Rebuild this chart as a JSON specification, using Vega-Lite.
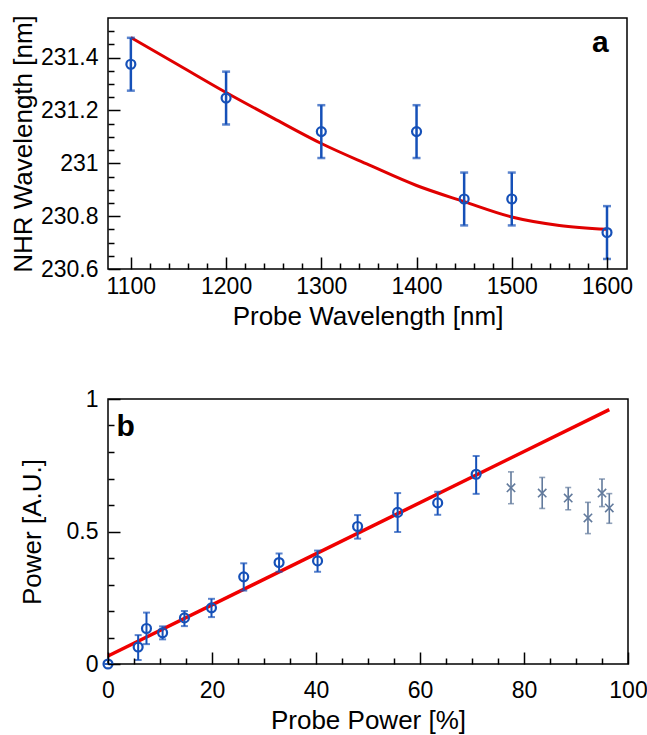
{
  "$schema": "https://vega.github.io/schema/vega-lite/v6.json",
  "padding": {"left": 9, "top": 13, "right": 0, "bottom": 0},
  "spacing": 57,
  "datasets": {
    "fitA": [
      {"wl": 1100, "nhr": 231.476}, {"wl": 1150, "nhr": 231.372}, {"wl": 1200, "nhr": 231.268},
      {"wl": 1250, "nhr": 231.17}, {"wl": 1300, "nhr": 231.075}, {"wl": 1350, "nhr": 230.994},
      {"wl": 1400, "nhr": 230.916}, {"wl": 1450, "nhr": 230.855}, {"wl": 1500, "nhr": 230.797},
      {"wl": 1550, "nhr": 230.765}, {"wl": 1600, "nhr": 230.75}
    ],
    "measA": [
      {"wl": 1100, "nhr": 231.375, "lo": 231.275, "hi": 231.475},
      {"wl": 1200, "nhr": 231.247, "lo": 231.147, "hi": 231.347},
      {"wl": 1300, "nhr": 231.12, "lo": 231.02, "hi": 231.22},
      {"wl": 1400, "nhr": 231.12, "lo": 231.02, "hi": 231.22},
      {"wl": 1450, "nhr": 230.865, "lo": 230.765, "hi": 230.965},
      {"wl": 1500, "nhr": 230.865, "lo": 230.765, "hi": 230.965},
      {"wl": 1600, "nhr": 230.738, "lo": 230.638, "hi": 230.838}
    ],
    "labelA": [{"wl": 1593, "nhr": 231.42, "label": "a"}],
    "fitB": [{"pp": 0, "pw": 0.03}, {"pp": 96.4, "pw": 0.96}],
    "measB": [
      {"pp": 0, "pw": 0.0, "lo": 0.0, "hi": 0.0},
      {"pp": 5.8, "pw": 0.064, "lo": 0.015, "hi": 0.109},
      {"pp": 7.4, "pw": 0.134, "lo": 0.075, "hi": 0.194},
      {"pp": 10.5, "pw": 0.118, "lo": 0.093, "hi": 0.142},
      {"pp": 14.7, "pw": 0.174, "lo": 0.143, "hi": 0.2},
      {"pp": 19.9, "pw": 0.212, "lo": 0.177, "hi": 0.246},
      {"pp": 26.1, "pw": 0.329, "lo": 0.277, "hi": 0.38},
      {"pp": 32.9, "pw": 0.383, "lo": 0.348, "hi": 0.417},
      {"pp": 40.3, "pw": 0.389, "lo": 0.348, "hi": 0.428},
      {"pp": 48.0, "pw": 0.519, "lo": 0.473, "hi": 0.562},
      {"pp": 55.7, "pw": 0.572, "lo": 0.498, "hi": 0.645},
      {"pp": 63.4, "pw": 0.608, "lo": 0.563, "hi": 0.65},
      {"pp": 70.8, "pw": 0.716, "lo": 0.642, "hi": 0.785}
    ],
    "satB": [
      {"pp": 77.5, "pw": 0.665, "lo": 0.605, "hi": 0.725},
      {"pp": 83.5, "pw": 0.645, "lo": 0.587, "hi": 0.704},
      {"pp": 88.5, "pw": 0.626, "lo": 0.582, "hi": 0.666},
      {"pp": 92.3, "pw": 0.551, "lo": 0.492, "hi": 0.61},
      {"pp": 95.0, "pw": 0.645, "lo": 0.594, "hi": 0.698},
      {"pp": 96.4, "pw": 0.589, "lo": 0.531, "hi": 0.643}
    ],
    "labelB": [{"pp": 3.4, "pw": 0.86, "label": "b"}]
  },
  "vconcat": [
    {
      "width": 519,
      "height": 251,
      "layer": [
        {
          "data": {"name": "fitA"},
          "mark": {"type": "line", "color": "#e00000", "strokeWidth": 3, "interpolate": "monotone"},
          "encoding": {
            "x": {"field": "wl", "type": "quantitative",
              "scale": {"domain": [1076, 1621], "nice": false, "zero": false},
              "axis": {"orient": "bottom", "zindex": 1, "ticks": true, "tickSize": -12, "tickColor": "#000000", "tickWidth": 1.5, "tickOpacity": 1,
                "values": [1100,1120,1140,1160,1180,1200,1220,1240,1260,1280,1300,1320,1340,1360,1380,1400,1420,1440,1460,1480,1500,1520,1540,1560,1580,1600],
                "tickDash": {"condition": {"test": "datum.value % 100 === 0", "value": []}, "value": [6, 100]},
                "labelExpr": "datum.value % 100 === 0 ? '' + datum.value : ''",
                "labelPadding": 18, "title": "Probe Wavelength [nm]", "titlePadding": 5}},
            "y": {"field": "nhr", "type": "quantitative",
              "scale": {"domain": [230.6, 231.55], "nice": false, "zero": false},
              "axis": {"orient": "left", "zindex": 1, "ticks": true, "tickSize": -12, "tickColor": "#000000", "tickWidth": 1.5, "tickOpacity": 1,
                "values": [230.6,230.65,230.7,230.75,230.8,230.85,230.9,230.95,231,231.05,231.1,231.15,231.2,231.25,231.3,231.35,231.4,231.45,231.5],
                "tickDash": {"condition": {"test": "abs(datum.value*5 - round(datum.value*5)) < 0.001", "value": []}, "value": [6, 100]},
                "labelExpr": "abs(datum.value*5 - round(datum.value*5)) < 0.001 ? '' + round(datum.value*10)/10 : ''",
                "labelPadding": 22, "title": "NHR Wavelength [nm]", "titlePadding": 4}}
          }
        },
        {
          "data": {"name": "measA"},
          "mark": {"type": "errorbar", "ticks": true, "size": 8, "thickness": 2.5, "color": "#1550b8"},
          "encoding": {
            "x": {"field": "wl", "type": "quantitative", "scale": {"domain": [1076, 1621], "nice": false, "zero": false},
              "axis": {"orient": "bottom", "zindex": 1, "ticks": true, "tickSize": -12, "tickColor": "#000000", "tickWidth": 1.5, "tickOpacity": 1,
                "values": [1100,1120,1140,1160,1180,1200,1220,1240,1260,1280,1300,1320,1340,1360,1380,1400,1420,1440,1460,1480,1500,1520,1540,1560,1580,1600],
                "tickDash": {"condition": {"test": "datum.value % 100 === 0", "value": []}, "value": [6, 100]},
                "labelExpr": "datum.value % 100 === 0 ? '' + datum.value : ''",
                "labelPadding": 18, "title": "Probe Wavelength [nm]", "titlePadding": 5}},
            "y": {"field": "lo", "type": "quantitative", "scale": {"domain": [230.6, 231.55], "nice": false, "zero": false},
              "axis": {"orient": "left", "zindex": 1, "ticks": true, "tickSize": -12, "tickColor": "#000000", "tickWidth": 1.5, "tickOpacity": 1,
                "values": [230.6,230.65,230.7,230.75,230.8,230.85,230.9,230.95,231,231.05,231.1,231.15,231.2,231.25,231.3,231.35,231.4,231.45,231.5],
                "tickDash": {"condition": {"test": "abs(datum.value*5 - round(datum.value*5)) < 0.001", "value": []}, "value": [6, 100]},
                "labelExpr": "abs(datum.value*5 - round(datum.value*5)) < 0.001 ? '' + round(datum.value*10)/10 : ''",
                "labelPadding": 22, "title": "NHR Wavelength [nm]", "titlePadding": 4}},
            "y2": {"field": "hi"}
          }
        },
        {
          "data": {"name": "measA"},
          "mark": {"type": "point", "shape": "circle", "filled": false, "size": 80, "strokeWidth": 2.2, "color": "#1550b8", "opacity": 1},
          "encoding": {
            "x": {"field": "wl", "type": "quantitative", "scale": {"domain": [1076, 1621], "nice": false, "zero": false},
              "axis": {"orient": "bottom", "zindex": 1, "ticks": true, "tickSize": -12, "tickColor": "#000000", "tickWidth": 1.5, "tickOpacity": 1,
                "values": [1100,1120,1140,1160,1180,1200,1220,1240,1260,1280,1300,1320,1340,1360,1380,1400,1420,1440,1460,1480,1500,1520,1540,1560,1580,1600],
                "tickDash": {"condition": {"test": "datum.value % 100 === 0", "value": []}, "value": [6, 100]},
                "labelExpr": "datum.value % 100 === 0 ? '' + datum.value : ''",
                "labelPadding": 18, "title": "Probe Wavelength [nm]", "titlePadding": 5}},
            "y": {"field": "nhr", "type": "quantitative", "scale": {"domain": [230.6, 231.55], "nice": false, "zero": false},
              "axis": {"orient": "left", "zindex": 1, "ticks": true, "tickSize": -12, "tickColor": "#000000", "tickWidth": 1.5, "tickOpacity": 1,
                "values": [230.6,230.65,230.7,230.75,230.8,230.85,230.9,230.95,231,231.05,231.1,231.15,231.2,231.25,231.3,231.35,231.4,231.45,231.5],
                "tickDash": {"condition": {"test": "abs(datum.value*5 - round(datum.value*5)) < 0.001", "value": []}, "value": [6, 100]},
                "labelExpr": "abs(datum.value*5 - round(datum.value*5)) < 0.001 ? '' + round(datum.value*10)/10 : ''",
                "labelPadding": 22, "title": "NHR Wavelength [nm]", "titlePadding": 4}}
          }
        },
        {
          "data": {"name": "labelA"},
          "mark": {"type": "text", "font": "Liberation Sans", "fontWeight": "bold", "fontSize": 30, "align": "center", "baseline": "alphabetic", "color": "#000"},
          "encoding": {
            "x": {"field": "wl", "type": "quantitative", "scale": {"domain": [1076, 1621], "nice": false, "zero": false},
              "axis": {"orient": "bottom", "zindex": 1, "ticks": true, "tickSize": -12, "tickColor": "#000000", "tickWidth": 1.5, "tickOpacity": 1,
                "values": [1100,1120,1140,1160,1180,1200,1220,1240,1260,1280,1300,1320,1340,1360,1380,1400,1420,1440,1460,1480,1500,1520,1540,1560,1580,1600],
                "tickDash": {"condition": {"test": "datum.value % 100 === 0", "value": []}, "value": [6, 100]},
                "labelExpr": "datum.value % 100 === 0 ? '' + datum.value : ''",
                "labelPadding": 18, "title": "Probe Wavelength [nm]", "titlePadding": 5}},
            "y": {"field": "nhr", "type": "quantitative", "scale": {"domain": [230.6, 231.55], "nice": false, "zero": false},
              "axis": {"orient": "left", "zindex": 1, "ticks": true, "tickSize": -12, "tickColor": "#000000", "tickWidth": 1.5, "tickOpacity": 1,
                "values": [230.6,230.65,230.7,230.75,230.8,230.85,230.9,230.95,231,231.05,231.1,231.15,231.2,231.25,231.3,231.35,231.4,231.45,231.5],
                "tickDash": {"condition": {"test": "abs(datum.value*5 - round(datum.value*5)) < 0.001", "value": []}, "value": [6, 100]},
                "labelExpr": "abs(datum.value*5 - round(datum.value*5)) < 0.001 ? '' + round(datum.value*10)/10 : ''",
                "labelPadding": 22, "title": "NHR Wavelength [nm]", "titlePadding": 4}},
            "text": {"field": "label"}
          }
        }
      ]
    },
    {
      "width": 520,
      "height": 265,
      "layer": [
        {
          "data": {"name": "fitB"},
          "mark": {"type": "line", "color": "#f00000", "strokeWidth": 3.5},
          "encoding": {
            "x": {"field": "pp", "type": "quantitative", "scale": {"domain": [0, 100], "nice": false},
              "axis": {"orient": "bottom", "zindex": 1, "ticks": true, "tickSize": -12, "tickColor": "#000000", "tickWidth": 1.5, "tickOpacity": 1,
                "values": [0,5,10,15,20,25,30,35,40,45,50,55,60,65,70,75,80,85,90,95,100],
                "tickDash": {"condition": {"test": "datum.value % 20 === 0", "value": []}, "value": [6, 100]},
                "labelExpr": "datum.value % 20 === 0 ? '' + datum.value : ''",
                "labelPadding": 27, "title": "Probe Power [%]", "titlePadding": 5}},
            "y": {"field": "pw", "type": "quantitative", "scale": {"domain": [0, 1], "nice": false},
              "axis": {"orient": "left", "zindex": 1, "ticks": true, "tickSize": -12, "tickColor": "#000000", "tickWidth": 1.5, "tickOpacity": 1,
                "values": [0,0.1,0.2,0.3,0.4,0.5,0.6,0.7,0.8,0.9,1],
                "tickDash": {"condition": {"test": "abs(datum.value*2 - round(datum.value*2)) < 0.001", "value": []}, "value": [6, 100]},
                "labelExpr": "abs(datum.value*2 - round(datum.value*2)) < 0.001 ? '' + datum.value : ''",
                "labelPadding": 22, "title": "Power [A.U.]", "titlePadding": 21}}
          }
        },
        {
          "data": {"name": "measB"},
          "mark": {"type": "errorbar", "ticks": true, "size": 7, "thickness": 2, "color": "#1550b8"},
          "encoding": {
            "x": {"field": "pp", "type": "quantitative", "scale": {"domain": [0, 100], "nice": false},
              "axis": {"orient": "bottom", "zindex": 1, "ticks": true, "tickSize": -12, "tickColor": "#000000", "tickWidth": 1.5, "tickOpacity": 1,
                "values": [0,5,10,15,20,25,30,35,40,45,50,55,60,65,70,75,80,85,90,95,100],
                "tickDash": {"condition": {"test": "datum.value % 20 === 0", "value": []}, "value": [6, 100]},
                "labelExpr": "datum.value % 20 === 0 ? '' + datum.value : ''",
                "labelPadding": 27, "title": "Probe Power [%]", "titlePadding": 5}},
            "y": {"field": "lo", "type": "quantitative", "scale": {"domain": [0, 1], "nice": false},
              "axis": {"orient": "left", "zindex": 1, "ticks": true, "tickSize": -12, "tickColor": "#000000", "tickWidth": 1.5, "tickOpacity": 1,
                "values": [0,0.1,0.2,0.3,0.4,0.5,0.6,0.7,0.8,0.9,1],
                "tickDash": {"condition": {"test": "abs(datum.value*2 - round(datum.value*2)) < 0.001", "value": []}, "value": [6, 100]},
                "labelExpr": "abs(datum.value*2 - round(datum.value*2)) < 0.001 ? '' + datum.value : ''",
                "labelPadding": 22, "title": "Power [A.U.]", "titlePadding": 21}},
            "y2": {"field": "hi"}
          }
        },
        {
          "data": {"name": "satB"},
          "mark": {"type": "errorbar", "ticks": true, "size": 6, "thickness": 1.6, "color": "#627a9c"},
          "encoding": {
            "x": {"field": "pp", "type": "quantitative", "scale": {"domain": [0, 100], "nice": false},
              "axis": {"orient": "bottom", "zindex": 1, "ticks": true, "tickSize": -12, "tickColor": "#000000", "tickWidth": 1.5, "tickOpacity": 1,
                "values": [0,5,10,15,20,25,30,35,40,45,50,55,60,65,70,75,80,85,90,95,100],
                "tickDash": {"condition": {"test": "datum.value % 20 === 0", "value": []}, "value": [6, 100]},
                "labelExpr": "datum.value % 20 === 0 ? '' + datum.value : ''",
                "labelPadding": 27, "title": "Probe Power [%]", "titlePadding": 5}},
            "y": {"field": "lo", "type": "quantitative", "scale": {"domain": [0, 1], "nice": false},
              "axis": {"orient": "left", "zindex": 1, "ticks": true, "tickSize": -12, "tickColor": "#000000", "tickWidth": 1.5, "tickOpacity": 1,
                "values": [0,0.1,0.2,0.3,0.4,0.5,0.6,0.7,0.8,0.9,1],
                "tickDash": {"condition": {"test": "abs(datum.value*2 - round(datum.value*2)) < 0.001", "value": []}, "value": [6, 100]},
                "labelExpr": "abs(datum.value*2 - round(datum.value*2)) < 0.001 ? '' + datum.value : ''",
                "labelPadding": 22, "title": "Power [A.U.]", "titlePadding": 21}},
            "y2": {"field": "hi"}
          }
        },
        {
          "data": {"name": "satB"},
          "mark": {"type": "point", "shape": "M-1,-1L1,1M-1,1L1,-1", "filled": false, "size": 70, "strokeWidth": 1.6, "color": "#627a9c", "opacity": 1},
          "encoding": {
            "x": {"field": "pp", "type": "quantitative", "scale": {"domain": [0, 100], "nice": false},
              "axis": {"orient": "bottom", "zindex": 1, "ticks": true, "tickSize": -12, "tickColor": "#000000", "tickWidth": 1.5, "tickOpacity": 1,
                "values": [0,5,10,15,20,25,30,35,40,45,50,55,60,65,70,75,80,85,90,95,100],
                "tickDash": {"condition": {"test": "datum.value % 20 === 0", "value": []}, "value": [6, 100]},
                "labelExpr": "datum.value % 20 === 0 ? '' + datum.value : ''",
                "labelPadding": 27, "title": "Probe Power [%]", "titlePadding": 5}},
            "y": {"field": "pw", "type": "quantitative", "scale": {"domain": [0, 1], "nice": false},
              "axis": {"orient": "left", "zindex": 1, "ticks": true, "tickSize": -12, "tickColor": "#000000", "tickWidth": 1.5, "tickOpacity": 1,
                "values": [0,0.1,0.2,0.3,0.4,0.5,0.6,0.7,0.8,0.9,1],
                "tickDash": {"condition": {"test": "abs(datum.value*2 - round(datum.value*2)) < 0.001", "value": []}, "value": [6, 100]},
                "labelExpr": "abs(datum.value*2 - round(datum.value*2)) < 0.001 ? '' + datum.value : ''",
                "labelPadding": 22, "title": "Power [A.U.]", "titlePadding": 21}}
          }
        },
        {
          "data": {"name": "measB"},
          "mark": {"type": "point", "shape": "circle", "filled": false, "size": 80, "strokeWidth": 2.2, "color": "#1550b8", "opacity": 1},
          "encoding": {
            "x": {"field": "pp", "type": "quantitative", "scale": {"domain": [0, 100], "nice": false},
              "axis": {"orient": "bottom", "zindex": 1, "ticks": true, "tickSize": -12, "tickColor": "#000000", "tickWidth": 1.5, "tickOpacity": 1,
                "values": [0,5,10,15,20,25,30,35,40,45,50,55,60,65,70,75,80,85,90,95,100],
                "tickDash": {"condition": {"test": "datum.value % 20 === 0", "value": []}, "value": [6, 100]},
                "labelExpr": "datum.value % 20 === 0 ? '' + datum.value : ''",
                "labelPadding": 27, "title": "Probe Power [%]", "titlePadding": 5}},
            "y": {"field": "pw", "type": "quantitative", "scale": {"domain": [0, 1], "nice": false},
              "axis": {"orient": "left", "zindex": 1, "ticks": true, "tickSize": -12, "tickColor": "#000000", "tickWidth": 1.5, "tickOpacity": 1,
                "values": [0,0.1,0.2,0.3,0.4,0.5,0.6,0.7,0.8,0.9,1],
                "tickDash": {"condition": {"test": "abs(datum.value*2 - round(datum.value*2)) < 0.001", "value": []}, "value": [6, 100]},
                "labelExpr": "abs(datum.value*2 - round(datum.value*2)) < 0.001 ? '' + datum.value : ''",
                "labelPadding": 22, "title": "Power [A.U.]", "titlePadding": 21}}
          }
        },
        {
          "data": {"name": "labelB"},
          "mark": {"type": "text", "font": "Liberation Sans", "fontWeight": "bold", "fontSize": 30, "align": "center", "baseline": "alphabetic", "color": "#000"},
          "encoding": {
            "x": {"field": "pp", "type": "quantitative", "scale": {"domain": [0, 100], "nice": false},
              "axis": {"orient": "bottom", "zindex": 1, "ticks": true, "tickSize": -12, "tickColor": "#000000", "tickWidth": 1.5, "tickOpacity": 1,
                "values": [0,5,10,15,20,25,30,35,40,45,50,55,60,65,70,75,80,85,90,95,100],
                "tickDash": {"condition": {"test": "datum.value % 20 === 0", "value": []}, "value": [6, 100]},
                "labelExpr": "datum.value % 20 === 0 ? '' + datum.value : ''",
                "labelPadding": 27, "title": "Probe Power [%]", "titlePadding": 5}},
            "y": {"field": "pw", "type": "quantitative", "scale": {"domain": [0, 1], "nice": false},
              "axis": {"orient": "left", "zindex": 1, "ticks": true, "tickSize": -12, "tickColor": "#000000", "tickWidth": 1.5, "tickOpacity": 1,
                "values": [0,0.1,0.2,0.3,0.4,0.5,0.6,0.7,0.8,0.9,1],
                "tickDash": {"condition": {"test": "abs(datum.value*2 - round(datum.value*2)) < 0.001", "value": []}, "value": [6, 100]},
                "labelExpr": "abs(datum.value*2 - round(datum.value*2)) < 0.001 ? '' + datum.value : ''",
                "labelPadding": 22, "title": "Power [A.U.]", "titlePadding": 21}},
            "text": {"field": "label"}
          }
        }
      ]
    }
  ],
  "config": {
    "view": {"stroke": "#000", "strokeWidth": 1.5},
    "axis": {
      "domain": false, "grid": false,
      "labelFont": "Liberation Sans", "titleFont": "Liberation Sans",
      "labelFontSize": 23, "titleFontSize": 26, "titleFontWeight": "normal",
      "labelColor": "#000", "titleColor": "#000",
      "labelFlush": false, "labelOverlap": false
    }
  }
}
